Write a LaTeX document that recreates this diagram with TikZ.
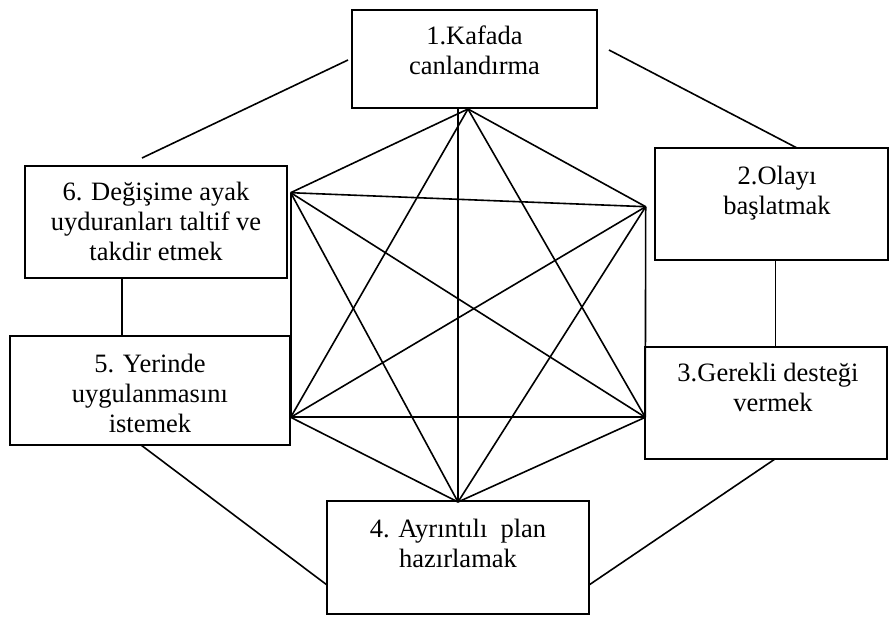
\documentclass[tikz,border=0pt]{standalone}
\usepackage{fontspec}
\setmainfont{Liberation Serif}
\usetikzlibrary{calc}
\begin{document}
\begin{tikzpicture}[x=1pt,y=-1pt,
  line width=1.6pt,
  stepbox/.style={draw=black, rectangle, inner sep=0pt, outer sep=0pt},
  steptext/.style={anchor=base, align=center, inner sep=0pt,
    font=\fontsize{26.5}{30}\selectfont},
  link/.style={draw=black, line width=1.6pt}]
\useasboundingbox (0,0) rectangle (889,617);
\fill[white] (0,0) rectangle (889,617);

% boxes of the six steps
\node[stepbox, minimum width=245pt, minimum height=98pt]  (b1) at (474.5,59)  {};
\node[stepbox, minimum width=233pt, minimum height=112pt] (b2) at (771.5,204) {};
\node[stepbox, minimum width=242pt, minimum height=112pt] (b3) at (766,403)   {};
\node[stepbox, minimum width=262pt, minimum height=113pt] (b4) at (458,557.5) {};
\node[stepbox, minimum width=280pt, minimum height=109pt] (b5) at (150,390.5) {};
\node[stepbox, minimum width=262pt, minimum height=112pt] (b6) at (156,222)   {};

% step texts, placed by the baseline of their last line
\node[steptext] (t1) at (474.5,75) {1.Kafada\\canlandırma};
\node[steptext] (t2) at (777,215)  {2.Olayı\\başlatmak};
\node[steptext] (t3) at (768,412)  {3.Gerekli desteği\\\hspace*{10pt}vermek};
\node[steptext] (t4) at (458,567)  {4. Ayrıntılı\ \ plan\\hazırlamak};
\node[steptext] (t5) at (150,432)  {5. Yerinde\\uygulanmasını\\istemek};
\node[steptext] (t6) at (156,261)  {6. Değişime ayak\\uyduranları taltif ve\\takdir etmek};

% links around the ring
\draw[link] ($(b1.west)+(-4,1)$)   -- ($(b6.north)+(-14,-8)$);
\draw[link] ($(b1.east)+(12,-9)$)  -- ($(b2.north)+(25.5,0)$);
\draw[link] ($(b2.south)+(4,0)$)   -- ($(b3.north)+(9.5,0)$);
\draw[link] ($(b3.south)+(9,0)$)   -- ($(b4.east)+(0,27.5)$);
\draw[link] ($(b5.south)+(-9,0)$)  -- ($(b4.west)+(0,27.5)$);
\draw[link] ($(b6.south)+(-34,0)$) -- ($(b5.north)+(-28,0)$);

% corners of the inner hexagon
\coordinate (h1)  at (468,109);
\coordinate (h1v) at (458,108.5);
\coordinate (h2)  at (645.7,206.7);
\coordinate (h3)  at (645.3,417.3);
\coordinate (h4)  at (458,502);
\coordinate (h5)  at (290.7,417.3);
\coordinate (h6)  at (290.7,192.7);

% every corner joined to every other one
\draw[link] (h1) -- (h2);
\draw[link] (h1) -- (h3);
\draw[link] (h1v) -- (h4);
\draw[link] (h1) -- (h5);
\draw[link] (h1) -- (h6);
\draw[link] (h2) -- (h3);
\draw[link] (h2) -- (h4);
\draw[link] (h2) -- (h5);
\draw[link] (h2) -- (h6);
\draw[link] (h3) -- (h4);
\draw[link] (h3) -- (h5);
\draw[link] (h3) -- (h6);
\draw[link] (h4) -- (h5);
\draw[link] (h4) -- (h6);
\draw[link] (h5) -- (h6);
\end{tikzpicture}
\end{document}
